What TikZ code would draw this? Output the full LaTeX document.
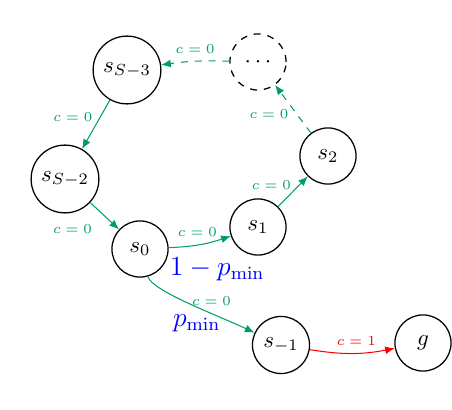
\documentclass[tikz,border=0pt]{standalone}
\usetikzlibrary{arrows.meta}
\definecolor{cgreen}{RGB}{0,158,96}
\begin{document}
\begin{tikzpicture}[x=0.4348pt,y=0.4348pt,
  st/.style={circle,draw,line width=0.55pt,minimum size=24.4pt,inner sep=3pt},
  edge/.style={-{Latex[length=4.2pt,width=3.4pt]},line width=0.45pt},
  ge/.style={edge,draw=cgreen},
  re/.style={edge,draw=red},
  cl/.style={font=\fontsize{6}{7}\selectfont,text=cgreen},
  rl/.style={font=\fontsize{6}{7}\selectfont,text=red},
  pl/.style={font=\large,text=blue}]
\useasboundingbox (0,0) rectangle (452,-410);
\node[st] (sS3) at (127,-70) {$s_{S-3}$};
\node[st,dashed] (dots) at (258,-62) {$\cdots$};
\node[st] (s2) at (328,-156) {$s_2$};
\node[st] (sS2) at (65,-179) {$s_{S-2}$};
\node[st] (s1) at (258,-227) {$s_1$};
\node[st] (s0) at (140,-249) {$s_0$};
\node[st] (sm1) at (281,-345) {$s_{-1}$};
\node[st] (g) at (423,-343) {$g$};

\draw[ge,dashed] (dots) to[bend right=5] node[cl,above]{$c=0$} (sS3);
\draw[ge] (sS3) -- node[cl,left,pos=0.34]{$c=0$} (sS2);
\draw[ge] (sS2) -- node[cl,below left,xshift=-2pt]{$c=0$} (s0);
\draw[ge] (s0) to[bend right=8] node[cl,above,pos=0.45]{$c=0$}
  node[pl,below,xshift=7.4pt,yshift=-2pt]{$1-p_{\min}$} (s1);
\draw[ge] (s1) -- node[cl,left,pos=0.7]{$c=0$} (s2);
\draw[ge,dashed] (s2) -- node[cl,left,pos=0.4]{$c=0$} (dots);
\draw[ge] (s0) to[out=-74,in=155,out distance=6.5pt,in distance=19.6pt]
  node[cl,above,pos=0.68]{$c=0$} node[pl,below,pos=0.5,xshift=4pt,yshift=-1.5pt]{$p_{\min}$} (sm1);
\draw[re] (sm1) to[bend right=10] node[rl,above,pos=0.55]{$c=1$} (g);
\end{tikzpicture}
\end{document}
